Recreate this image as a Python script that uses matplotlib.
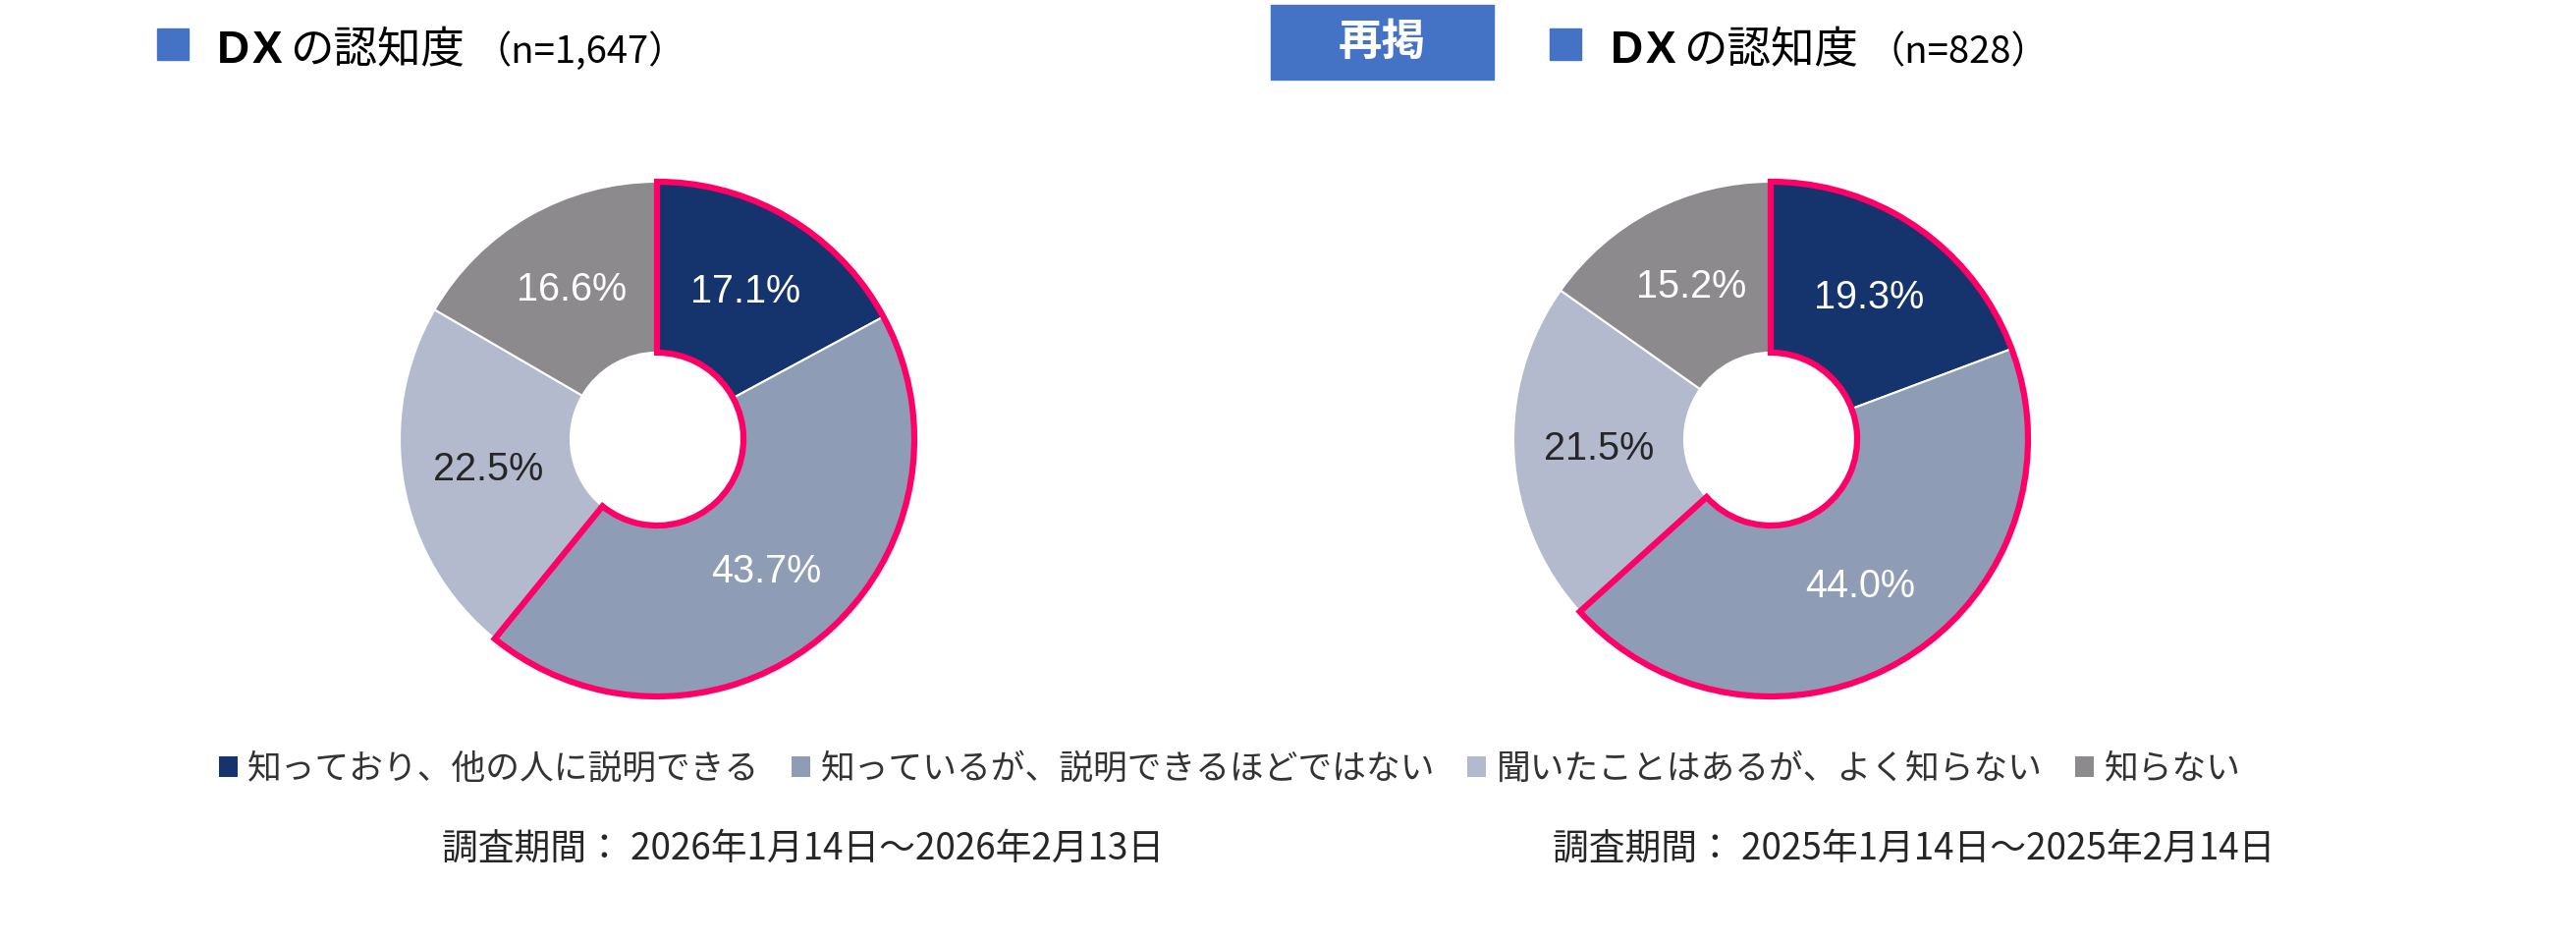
import matplotlib
matplotlib.use('Agg')
import matplotlib.pyplot as plt
from matplotlib.patches import Wedge, Rectangle, Patch
from matplotlib.font_manager import FontProperties

# ---- data ----
categories = ['知っており、他の人に説明できる', '知っているが、説明できるほどではない',
              '聞いたことはあるが、よく知らない', '知らない']
values_2026 = [17.1, 43.7, 22.5, 16.6]
values_2025 = [19.3, 44.0, 21.5, 15.2]
n_2026 = '1,647'
n_2025 = '828'
title_main = 'の認知度'
title_dx = 'DX'
badge_text = '再掲'
period_2026 = '調査期間： 2026年1月14日～2026年2月13日'
period_2025 = '調査期間： 2025年1月14日～2025年2月14日'
highlight_count = 2  # first two categories outlined

# ---- styles ----
colors = ['#15346D', '#8E9CB6', '#B3BACE', '#8C8A8D']
label_colors = ['white', 'white', '#262626', 'white']
PINK = '#FF0066'
BLUE = '#4472C4'
JP = ['Noto Sans CJK JP', 'DejaVu Sans']
AR = ['Liberation Sans', 'DejaVu Sans']

W, H = 2623, 959
DPI = 100
fig = plt.figure(figsize=(W / DPI, H / DPI), dpi=DPI)

ov = fig.add_axes([0, 0, 1, 1])
ov.set_xlim(0, W)
ov.set_ylim(H, 0)
ov.axis('off')


def px_axes(x0, y0, w, h):
    return fig.add_axes([x0 / W, 1 - (y0 + h) / H, w / W, h / H])


def donut(cx, cy, R, vals):
    pad = 1.12
    ax = px_axes(cx - R * pad, cy - R * pad, 2 * R * pad, 2 * R * pad)
    total = sum(vals)
    wedges, _, autotexts = ax.pie(
        vals, colors=colors, startangle=90, counterclock=False, radius=1,
        wedgeprops=dict(width=0.664, edgecolor='white', linewidth=1.5),
        autopct=lambda p: f'{p * total / 100:.1f}%', pctdistance=0.668,
        textprops=dict(fontsize=28.5, family=AR))
    for t, c in zip(autotexts, label_colors):
        t.set_color(c)
    frac = sum(vals[:highlight_count]) / total
    ax.add_patch(Wedge((0, 0), 1, 90 - 360 * frac, 90, width=0.664,
                       facecolor='none', edgecolor=PINK, linewidth=4.5,
                       joinstyle='miter', zorder=5))
    ax.set_xlim(-pad, pad)
    ax.set_ylim(-pad, pad)
    ax.axis('off')
    return ax


donut(669, 447, 262, values_2026)
donut(1803, 447, 262, values_2025)


def title(x_sq, x_dx, n):
    ov.add_patch(Rectangle((x_sq, 29), 32, 32, color=BLUE))
    # "DX" drawn with the slightly wide letter spacing of the original
    ov.text(x_dx - 2, 64, title_dx[0], family=AR, weight='bold', fontsize=33,
            va='baseline', color='black')
    ov.text(x_dx + 34, 64, title_dx[1], family=AR, weight='bold', fontsize=33,
            va='baseline', color='black')
    ov.text(x_dx + 72, 64, title_main, family=JP, fontsize=32,
            va='baseline', color='black')
    ov.text(x_dx + 259, 64, f'（n={n}）', family=JP, fontsize=27.5,
            va='baseline', color='black')


title(160, 223, n_2026)
title(1578, 1642, n_2025)

# badge
ov.add_patch(Rectangle((1294, 5), 227, 76, color=BLUE))
ov.text(1407, 43, badge_text, family=JP, weight='bold', fontsize=32,
        color='white', ha='center', va='center')

# legend
handles = [Patch(facecolor=c, edgecolor='none') for c in colors]
fig.legend(handles=handles, labels=categories, ncol=4, loc='center',
           bbox_to_anchor=(1252 / W, 1 - 783 / H), frameon=False,
           prop=FontProperties(family=JP, size=25),
           handlelength=0.55, handleheight=0.55, handletextpad=0.3,
           columnspacing=0.95, labelcolor='#333333')

# survey periods
ov.text(818, 864, period_2026, ha='center', va='center', family=JP,
        fontsize=26.5, color='#262626')
ov.text(1949, 864, period_2025, ha='center', va='center', family=JP,
        fontsize=26.5, color='#262626')

fig.savefig('out.png', dpi=DPI)
